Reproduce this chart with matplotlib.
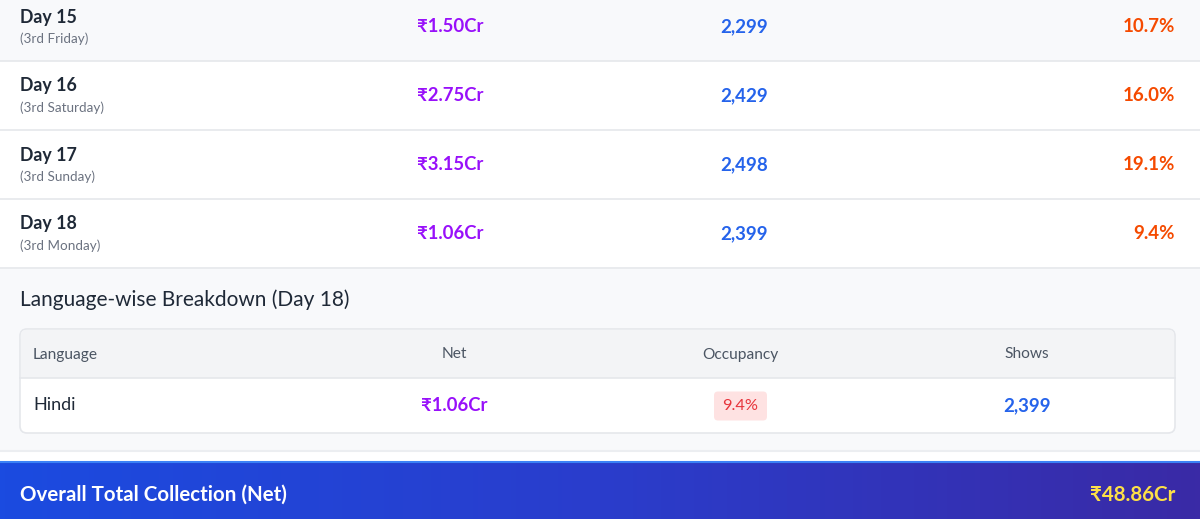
import numpy as np
import matplotlib.pyplot as plt
from matplotlib.patches import Rectangle, FancyBboxPatch
from matplotlib.colors import LinearSegmentedColormap

# Daily rows
days = ['Day 15', 'Day 16', 'Day 17', 'Day 18']
day_notes = ['(3rd Friday)', '(3rd Saturday)', '(3rd Sunday)', '(3rd Monday)']
net = ['₹1.50Cr', '₹2.75Cr', '₹3.15Cr', '₹1.06Cr']
shows = ['2,299', '2,429', '2,498', '2,399']
occupancy = ['10.7%', '16.0%', '19.1%', '9.4%']

# Language breakdown (Day 18)
lang_headers = ['Language', 'Net', 'Occupancy', 'Shows']
lang_names = ['Hindi']
lang_net = ['₹1.06Cr']
lang_occ = ['9.4%']
lang_shows = ['2,399']

total_label = 'Overall Total Collection (Net)'
total_value = '₹48.86Cr'

FONT = ['Lato', 'Noto Sans', 'DejaVu Sans']
plt.rcParams['font.family'] = FONT

DARK = '#1f2937'
GRAY = '#6b7280'
PURPLE = '#9810fa'
BLUE = '#2563eb'
ORANGE = '#f54a00'
LINE = '#e5e7eb'
LIGHT = '#f8f9fb'

fig = plt.figure(figsize=(12, 5.19), dpi=100)
ax = fig.add_axes([0, 0, 1, 1])
ax.set_xlim(0, 1200)
ax.set_ylim(519, 0)
ax.axis('off')
fig.patch.set_facecolor('white')

# daily table rows
row_h = 69
top0 = -8
for i, d in enumerate(days):
    top = top0 + i * row_h
    bg = LIGHT if i == 0 else 'white'
    ax.add_patch(Rectangle((0, top), 1200, row_h, facecolor=bg, edgecolor='none', zorder=0))
    ax.plot([0, 1200], [top + row_h, top + row_h], color=LINE, lw=1.2, zorder=1)
    mid = top + row_h / 2
    ax.text(20, top + 25, d, fontsize=12.8, fontweight='bold', color=DARK, va='center', ha='left')
    ax.text(20, top + 47, day_notes[i], fontsize=9.7, color=GRAY, va='center', ha='left')
    ax.text(450, mid, net[i], fontsize=13.3, fontweight='bold', color=PURPLE, va='center', ha='center')
    ax.text(744, mid, shows[i], fontsize=13.5, fontweight='bold', color=BLUE, va='center', ha='center')
    ax.text(1175, mid, occupancy[i], fontsize=13.5, fontweight='bold', color=ORANGE, va='center', ha='right')

# breakdown section
sec_top = top0 + len(days) * row_h + 1
ax.add_patch(Rectangle((0, sec_top), 1200, 451 - sec_top, facecolor=LIGHT, edgecolor='none', zorder=0))
ax.plot([0, 1200], [451, 451], color='#eceef1', lw=1.5, zorder=1)
ax.text(20, 300, 'Language-wise Breakdown (Day 18)', fontsize=15, color=DARK, va='center', ha='left')

box_x0, box_x1 = 20, 1175
box_top, head_bot, box_bot = 329, 378, 433
ax.add_patch(FancyBboxPatch((box_x0, box_top), box_x1 - box_x0, box_bot - box_top,
                            boxstyle='round,pad=0,rounding_size=7', facecolor='white',
                            edgecolor=LINE, lw=1.2, zorder=1))
ax.add_patch(FancyBboxPatch((box_x0 + 0.8, box_top + 0.8), box_x1 - box_x0 - 1.6, 14,
                            boxstyle='round,pad=0,rounding_size=6', facecolor='#f3f4f6',
                            edgecolor='none', zorder=2))
ax.add_patch(Rectangle((box_x0 + 0.8, box_top + 8), box_x1 - box_x0 - 1.6, head_bot - box_top - 8,
                       facecolor='#f3f4f6', edgecolor='none', zorder=2))
ax.plot([box_x0, box_x1], [head_bot, head_bot], color=LINE, lw=1.2, zorder=3)

col_x = [33, 454, 740, 1027]
col_ha = ['left', 'center', 'center', 'center']
hmid = (box_top + head_bot) / 2
for h, x, ha in zip(lang_headers, col_x, col_ha):
    ax.text(x, hmid + 1, h, fontsize=11.2, color='#4b5563', va='center', ha=ha, zorder=4)

for j, name in enumerate(lang_names):
    rmid = (head_bot + box_bot) / 2 + j * 55
    ax.text(col_x[0], rmid, name, fontsize=13, color=DARK, va='center', ha='left', zorder=4)
    ax.text(col_x[1], rmid, lang_net[j], fontsize=13.3, fontweight='bold', color=PURPLE,
            va='center', ha='center', zorder=4)
    ax.add_patch(FancyBboxPatch((col_x[2] - 26, rmid - 14), 53, 29,
                                boxstyle='round,pad=0,rounding_size=4', facecolor='#fee2e2',
                                edgecolor='none', zorder=3))
    ax.text(col_x[2], rmid, lang_occ[j], fontsize=11.8, color='#e7343b', va='center', ha='center', zorder=4)
    ax.text(col_x[3], rmid, lang_shows[j], fontsize=13.5, fontweight='bold', color=BLUE,
            va='center', ha='center', zorder=4)

# total banner with gradient
cmap = LinearSegmentedColormap.from_list('banner', ['#1b4be0', '#2a3dcc', '#3a2aa6'])
grad = np.linspace(0, 1, 256).reshape(1, -1)
ax.imshow(grad, cmap=cmap, extent=[0, 1200, 519, 462], aspect='auto', zorder=1)
ax.plot([0, 1200], [461.5, 461.5], color='#3b82f6', lw=1.5, zorder=2)
ax.text(20, 495, total_label, fontsize=14.8, fontweight='bold', color='white', va='center', ha='left', zorder=3)
ax.text(1175, 495, total_value, fontsize=14.8, fontweight='bold', color='#fde047', va='center', ha='right', zorder=3)

ax.set_xlim(0, 1200)
ax.set_ylim(519, 0)
fig.savefig('out.png', dpi=100)
